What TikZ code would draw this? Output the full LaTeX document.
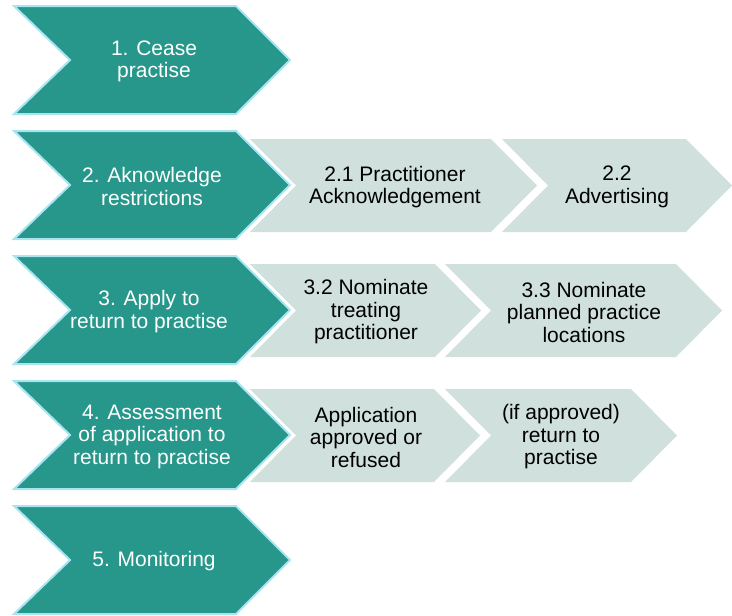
\documentclass[tikz,border=0pt]{standalone}
\usepackage{fontspec}
\setmainfont{Liberation Sans}
\definecolor{teal1}{HTML}{26978A}
\definecolor{cyanb}{HTML}{A8E4F2}
\definecolor{lightg}{HTML}{D0E0DC}
\tikzset{
  bigc/.style={fill=teal1, draw=cyanb, line width=2pt, line join=miter},
  smallc/.style={fill=lightg, draw=none},
  bigt/.style={text=white, align=center, font=\fontsize{21}{22.5}\selectfont, inner sep=0pt},
  smallt/.style={text=black, align=center, font=\fontsize{21}{22.5}\selectfont, inner sep=0pt},
}
% big chevron: #1 = top y
\newcommand{\bigchev}[1]{%
  \draw[bigc] (14,#1) -- (236,#1) -- (290,{#1+54}) -- (236,{#1+108}) -- (14,{#1+108}) -- (70,{#1+54}) -- cycle;}
% small chevron: #1 top y, #2 left x, #3 right x (top corner)
\newcommand{\smallchev}[3]{%
  \fill[smallc] (#2,#1) -- (#3,#1) -- ({#3+46},{#1+46.5}) -- (#3,{#1+93}) -- (#2,{#1+93}) -- ({#2+46},{#1+46.5}) -- cycle;}
\begin{document}
\begin{tikzpicture}[x=1pt,y=-1pt]
\useasboundingbox (0,0) rectangle (732,616);
% small chevrons
\smallchev{139}{250}{491}
\smallchev{139}{502}{686}
\smallchev{264}{250}{435}
\smallchev{264}{445}{676}
\smallchev{389}{250}{434}
\smallchev{389}{445}{631}
% big chevrons
\bigchev{6}
\bigchev{131}
\bigchev{256}
\bigchev{381}
\bigchev{506}
% texts big
\node[bigt] (s1) at (154,61.5) {1. Cease\\practise};
\node[bigt] (s2) at (152,186.5) {2. Aknowledge\\restrictions};
\node[bigt] (s3) at (149,311.5) {3. Apply to\\return to practise};
\node[bigt] (s4) at (152,436.5) {4. Assessment\\of application to\\return to practise};
\node[bigt] (s5) at (154,561.5) {5. Monitoring};
% texts small
\node[smallt] (s21) at (395,187) {2.1 Practitioner\\Acknowledgement};
\node[smallt] (s22) at (617,187) {2.2\\Advertising};
\node[smallt] (s32) at (366,312) {3.2 Nominate\\treating\\practitioner};
\node[smallt] (s33) at (584,312) {3.3 Nominate\\planned practice\\locations};
\node[smallt] (s41) at (366,437) {Application\\approved or\\refused};
\node[smallt] (s42) at (561,437) {(if approved)\\return to\\practise};
\end{tikzpicture}
\end{document}
